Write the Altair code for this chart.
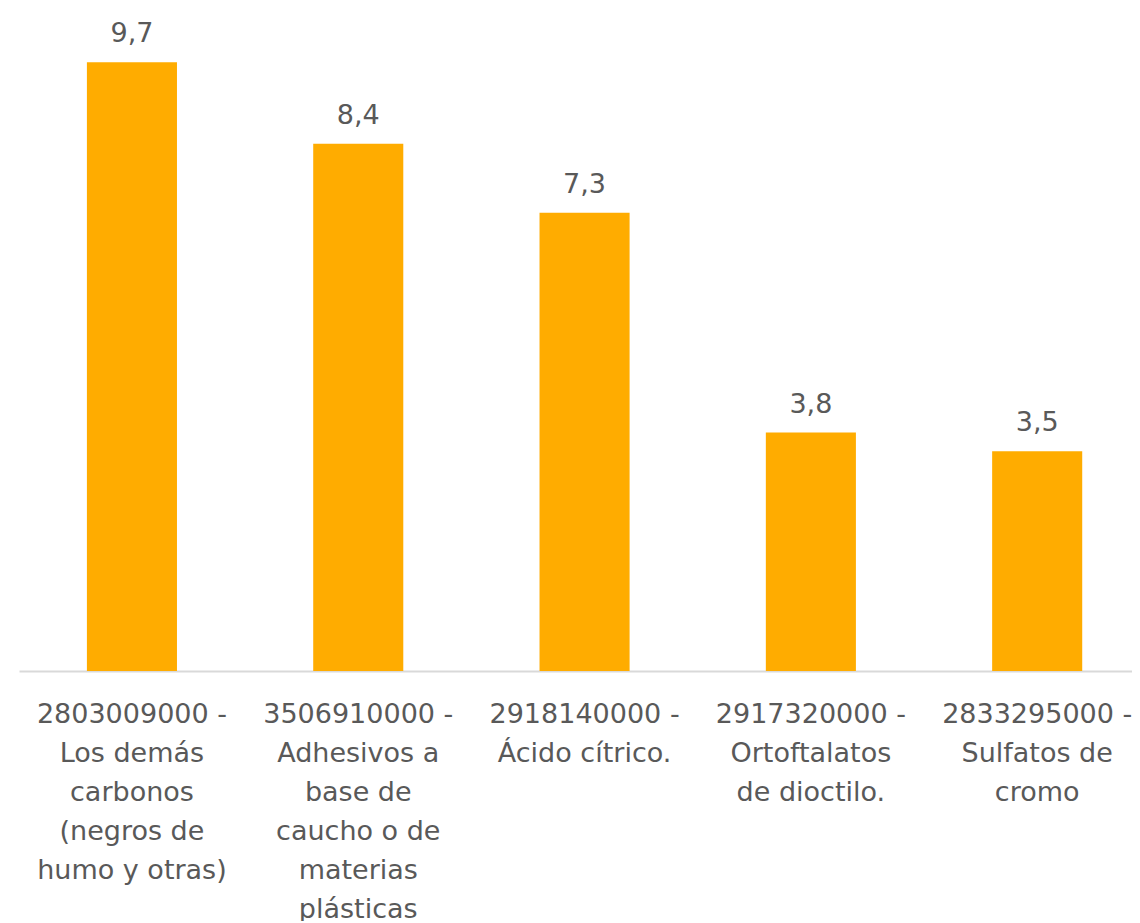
import altair as alt
import pandas as pd

categories = [
    "2803009000 -\nLos demás\ncarbonos\n(negros de\nhumo y otras)",
    "3506910000 -\nAdhesivos a\nbase de\ncaucho o de\nmaterias\nplásticas",
    "2918140000 -\nÁcido cítrico.",
    "2917320000 -\nOrtoftalatos\nde dioctilo.",
    "2833295000 -\nSulfatos de\ncromo",
]
values = [9.7, 8.4, 7.3, 3.8, 3.5]
value_labels = ["9,7", "8,4", "7,3", "3,8", "3,5"]

df = pd.DataFrame({"cat": categories, "val": values, "lab": value_labels})

FONT = "DejaVu Sans"
GRAY = "#595959"

x = alt.X(
    "cat:N",
    sort=categories,
    title=None,
    scale=alt.Scale(paddingInner=0.602, paddingOuter=0.26, align=0.577),
    axis=alt.Axis(
        labelExpr="split(datum.label, '\\n')",
        labelAngle=0,
        labelFont=FONT,
        labelFontSize=27,
        labelColor=GRAY,
        labelLineHeight=39,
        labelPadding=30,
        labelBaseline="top",
        ticks=False,
        domainColor="#D9D9D9",
        domainWidth=2,
        labelLimit=400,
        grid=False,
    ),
)
y = alt.Y(
    "val:Q",
    scale=alt.Scale(domain=[0, 10.5], nice=False),
    axis=None,
)

bars = alt.Chart(df).mark_bar(color="#FFAC00").encode(x=x, y=y)
text = alt.Chart(df).mark_text(
    dy=-14, baseline="bottom", font=FONT, fontSize=27, color=GRAY
).encode(x=x, y=y, text="lab:N")

chart = (
    alt.layer(bars, text)
    .properties(
        width=1113,
        height=659,
        background="white",
        autosize=alt.AutoSizeParams(type="none"),
        padding={"left": 11, "top": 4, "right": 0, "bottom": 250},
    )
    .configure_view(strokeWidth=0, stroke="transparent")
)

chart.save("out.html", embed_options={"renderer": "svg", "actions": False})
